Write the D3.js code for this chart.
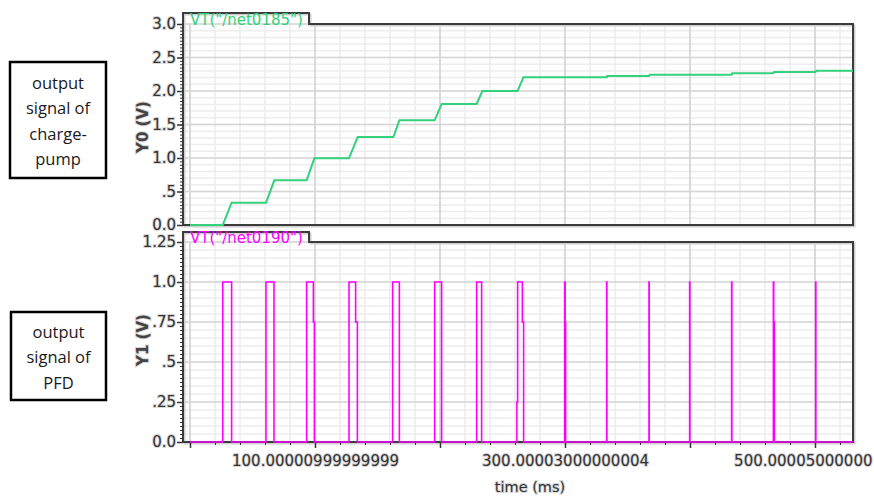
<!DOCTYPE html>
<meta charset="utf-8">
<style>
    body { margin: 0; background: #fff; }
    svg { display: block; }
    .tick text { font-family: "DejaVu Sans", sans-serif; font-size: 15px; fill: #333; stroke: #d6d6d6; stroke-width: 2px; paint-order: stroke; }
    .domain { display: none; }
</style>
<body>
<script src="https://d3js.org/d3.v7.min.js"></script>
<script>
    var width = 874,
        height = 501;

    // charge-pump output (Y0), time in ms / volts
    var cpTime = [0, 26.2, 33.3, 60.8, 67.5, 93.3, 99.5, 127.2, 134.1, 162.7, 167.5, 195.7, 201.3,
        229.3, 233.9, 262.1, 266.7, 333.3, 333.8, 367.2, 367.7, 433.3, 433.8, 466.7, 467.2, 500.5, 501, 530.4];
    var cpVolt = [0, 0, 0.333, 0.333, 0.667, 0.667, 0.995, 0.995, 1.313, 1.313, 1.563, 1.563, 1.806,
        1.806, 2.0, 2.0, 2.204, 2.204, 2.224, 2.224, 2.243, 2.243, 2.264, 2.264, 2.284, 2.284, 2.303, 2.303];

    // PFD output (Y1), level holds from each time until the next one
    var pfdTime = [0, 26.2, 33.3, 60.8, 67.2, 93.3, 98.7, 99.5, 127.2, 132.5, 133.9, 162.1, 167.5,
        195.7, 201.3, 229.3, 233.3, 261.5, 262.1, 265.9, 266.9, 299.7, 300.1, 300.5, 333.3, 333.5,
        367.2, 367.4, 399.7, 399.9, 433.3, 433.5, 466.7, 467.0, 467.5, 500.5, 500.7, 530.4];
    var pfdVolt = [0, 1, 0, 1, 0, 1, 0.75, 0, 1, 0.75, 0, 1, 0,
        1, 0, 1, 0, 0.25, 1, 0.75, 0, 1, 0.75, 0, 1, 0,
        1, 0, 1, 0, 1, 0, 1, 0.75, 0, 1, 0, 0];

    var xTicks = [0, 100, 200, 300, 400, 500];
    var xTickLabels = ["", "100.00000999999999", "", "300.00003000000004", "", "500.00005000000"];
    var y0Ticks = [0, 0.5, 1, 1.5, 2, 2.5, 3];
    var y0TickLabels = ["0.0", ".5", "1.0", "1.5", "2.0", "2.5", "3.0"];
    var y1Ticks = [0, 0.25, 0.5, 0.75, 1, 1.25];
    var y1TickLabels = ["0.0", ".25", ".5", ".75", "1.0", "1.25"];

    var traceNames = ['VT("/net0185")', 'VT("/net0190")'];
    var axisTitles = ["Y0 (V)", "Y1 (V)"];
    var notes = [["output", "signal of", "charge-", "pump"], ["output", "signal of", "PFD"]];

    var svg = d3.select('body')
        .append('svg')
        .attr('width', width)
        .attr('height', height);

    var x = d3.scaleLinear().domain([-5.6, 530.4]).range([183, 853]);

    var panels = [
        {
            y: d3.scaleLinear().domain([0, 3]).range([225, 24]),
            tabTop: 13, ticks: y0Ticks, labels: y0TickLabels,
            minorGrid: d3.range(0, 31).map(i => i * 0.1),
            minorTicks: d3.range(0, 61).map(i => i * 0.05),
            color: '#34d17c', width: 2, titleY: 127,
            time: cpTime, volt: cpVolt, curve: d3.curveLinear
        },
        {
            y: d3.scaleLinear().domain([0, 1.25]).range([442, 242]),
            tabTop: 232, ticks: y1Ticks, labels: y1TickLabels,
            minorGrid: d3.range(0, 26).map(i => i * 0.05),
            minorTicks: d3.range(0, 51).map(i => i * 0.025),
            color: '#ff00ff', width: 1.6, titleY: 340,
            time: pfdTime, volt: pfdVolt, curve: d3.curveStepAfter
        }
    ];

    var xMinor = d3.range(0, 27).map(i => i * 20);

    panels.forEach(function (p, k) {
        var g = svg.append('g');
        var top = p.y.range()[1], bottom = p.y.range()[0];

        // grid
        g.selectAll('.vmin').data(xMinor).enter().append('line')
            .attr('x1', d => x(d)).attr('x2', d => x(d))
            .attr('y1', top).attr('y2', bottom)
            .attr('stroke', '#ededed').attr('stroke-width', 1.5);
        g.selectAll('.hmin').data(p.minorGrid).enter().append('line')
            .attr('x1', x.range()[0]).attr('x2', x.range()[1])
            .attr('y1', d => p.y(d)).attr('y2', d => p.y(d))
            .attr('stroke', '#ededed').attr('stroke-width', 1.5);
        g.selectAll('.vmaj').data(xTicks).enter().append('line')
            .attr('x1', d => x(d)).attr('x2', d => x(d))
            .attr('y1', top).attr('y2', bottom)
            .attr('stroke', '#d2d2d2').attr('stroke-width', 1.5);
        g.selectAll('.hmaj').data(p.ticks).enter().append('line')
            .attr('x1', x.range()[0]).attr('x2', x.range()[1])
            .attr('y1', d => p.y(d)).attr('y2', d => p.y(d))
            .attr('stroke', '#d6d6d6').attr('stroke-width', 1.5);

        // frame with tab
        var frame = 'M183,' + bottom + 'V' + p.tabTop + 'H309V' + top + 'H853V' + bottom + 'Z';
        g.append('path').attr('d', frame).attr('fill', 'none')
            .attr('stroke', '#cfcfcf').attr('stroke-width', 2)
            .attr('transform', 'translate(1.5,1.5)');
        g.append('path').attr('d', frame).attr('fill', 'none')
            .attr('stroke', '#3c3c3c').attr('stroke-width', 2);

        g.append('text')
            .attr('x', 190).attr('y', top + 1)
            .attr('font-family', 'DejaVu Sans, sans-serif')
            .attr('font-size', 15)
            .attr('fill', p.color)
            .text(traceNames[k]);

        // y axis
        g.append('g')
            .attr('transform', 'translate(183,0)')
            .call(d3.axisLeft(p.y).tickValues(p.minorTicks).tickSize(3).tickFormat(''))
            .selectAll('line').attr('stroke', '#333');
        g.append('g')
            .attr('transform', 'translate(183,0)')
            .call(d3.axisLeft(p.y).tickValues(p.ticks).tickSize(6).tickPadding(1)
                .tickFormat((d, i) => p.labels[i]))
            .selectAll('line').attr('stroke', '#333').attr('stroke-width', 1.5);

        g.append('text')
            .attr('transform', 'translate(148,' + p.titleY + ') rotate(-90)')
            .attr('text-anchor', 'middle')
            .attr('font-family', 'DejaVu Sans, sans-serif')
            .attr('font-size', 15)
            .attr('font-weight', 'bold')
            .attr('fill', '#444')
            .attr('stroke', '#d6d6d6').attr('stroke-width', 2).attr('paint-order', 'stroke')
            .text(axisTitles[k]);
    });

    // x axis on lower panel
    svg.append('g')
        .attr('transform', 'translate(0,442)')
        .call(d3.axisBottom(x).tickValues(xMinor).tickSize(3).tickFormat(''))
        .selectAll('line').attr('stroke', '#333');
    var xAxis = svg.append('g')
        .attr('transform', 'translate(0,442)')
        .call(d3.axisBottom(x).tickValues(xTicks).tickSize(6).tickPadding(7)
            .tickFormat((d, i) => xTickLabels[i]));
    xAxis.selectAll('line').attr('stroke', '#333').attr('stroke-width', 1.5);
    // last label runs into the window edge, keep it inside
    xAxis.selectAll('text').filter(d => d === 500)
        .attr('text-anchor', 'end')
        .attr('x', 872 - x(500));

    svg.append('text')
        .attr('x', 530).attr('y', 492)
        .attr('text-anchor', 'middle')
        .attr('font-family', 'DejaVu Sans, sans-serif')
        .attr('font-size', 14.5)
        .attr('fill', '#333')
        .attr('stroke', '#d6d6d6').attr('stroke-width', 2).attr('paint-order', 'stroke')
        .text('time (ms)');

    // traces on top of frames and axes
    panels.forEach(function (p) {
        var line = d3.line()
            .x(i => x(p.time[i]))
            .y(i => p.y(p.volt[i]))
            .curve(p.curve);
        svg.append('path')
            .attr('d', line(d3.range(p.time.length)))
            .attr('fill', 'none')
            .attr('stroke', p.color)
            .attr('stroke-width', p.width);
    });

    // side note boxes
    var boxes = [{x: 10, y: 62, w: 96, h: 116, ty: 83}, {x: 11, y: 312, w: 95, h: 88, ty: 332}];
    boxes.forEach(function (b, k) {
        svg.append('rect')
            .attr('x', b.x).attr('y', b.y).attr('width', b.w).attr('height', b.h)
            .attr('fill', '#fff').attr('stroke', '#000').attr('stroke-width', 2.5);
        svg.append('g').selectAll('text')
            .data(notes[k]).enter().append('text')
            .attr('x', b.x + b.w / 2)
            .attr('y', (d, i) => b.ty + i * 25.5)
            .attr('dy', '0.35em')
            .attr('text-anchor', 'middle')
            .attr('font-family', 'Open Sans, sans-serif')
            .attr('font-size', 16.5)
            .attr('fill', '#1a1a1a')
            .text(d => d);
    });
</script>
</body>
</html>
